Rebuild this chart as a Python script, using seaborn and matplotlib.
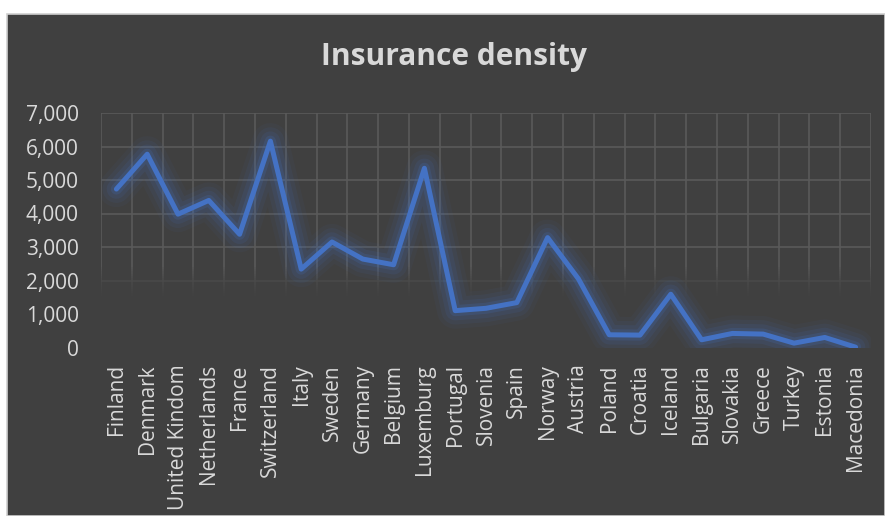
"""
Insurance density by country, Excel dark style line chart
"""

import numpy as np
import pandas as pd
import matplotlib
matplotlib.use('Agg')
import matplotlib.pyplot as plt
import matplotlib.patheffects as pe
from matplotlib.patches import Rectangle
from matplotlib.ticker import FuncFormatter, FixedLocator
import seaborn as sns

countries = ['Finland', 'Denmark', 'United Kindom', 'Netherlands', 'France',
             'Switzerland', 'Italy', 'Sweden', 'Germany', 'Belgium', 'Luxemburg',
             'Portugal', 'Slovenia', 'Spain', 'Norway', 'Austria', 'Poland',
             'Croatia', 'Iceland', 'Bulgaria', 'Slovakia', 'Greece', 'Turkey',
             'Estonia', 'Macedonia']
density = [4730, 5770, 3980, 4390, 3380, 6160, 2340, 3150, 2640, 2470, 5350,
           1100, 1170, 1340, 3280, 2050, 380, 370, 1590, 230, 420, 400, 130,
           300, 10]
y_ticks = [0, 1000, 2000, 3000, 4000, 5000, 6000, 7000]

bg = '#404040'
txt = '#d9d9d9'
blue = '#4472C4'

df = pd.DataFrame({'country': countries, 'density': density})

sns.set_theme(style='dark')
plt.rcParams['font.family'] = ['Open Sans', 'DejaVu Sans']

fig = plt.figure(figsize=(8.85, 5.16), dpi=100, facecolor='white')
fig.patches.append(Rectangle((7 / 885, 0), 1 - 7 / 885, 1 - 14 / 516,
                             transform=fig.transFigure, facecolor=bg,
                             edgecolor='#d0d0d0', linewidth=1.2, zorder=-10))
ax = fig.add_axes([101 / 885, 1 - 347.5 / 516, 770 / 885, 234.5 / 516])
ax.set_facecolor(bg)

glow = [pe.Stroke(linewidth=26, foreground=blue, alpha=0.05),
        pe.Stroke(linewidth=20, foreground=blue, alpha=0.08),
        pe.Stroke(linewidth=14, foreground=blue, alpha=0.11),
        pe.Stroke(linewidth=8, foreground=blue, alpha=0.18),
        pe.Normal()]
sns.lineplot(data=df, x='country', y='density', sort=False, ax=ax,
             color=blue, linewidth=3.6, zorder=3, path_effects=glow)

n = len(countries)
ax.set_yticks(y_ticks)
ax.yaxis.set_major_formatter(FuncFormatter(lambda v, p: f'{int(v):,}'))
ax.xaxis.set_minor_locator(FixedLocator(np.arange(-0.5, n, 1.0)))

ax.grid(False)
ax.grid(True, axis='y', which='major', color='#5a5a5a', linewidth=1.2)
ax.grid(True, axis='x', which='minor', color='#5a5a5a', linewidth=1.2)
ax.set_axisbelow(True)

# gridlines fade out towards the bottom: stacked translucent bands in bg colour
for top in np.linspace(500, 2400, 30):
    ax.axhspan(-50, top, color=bg, alpha=0.1, linewidth=0, zorder=1.5)
ax.set_xlim(-0.5, n - 0.5)
ax.set_ylim(0, 7000)

ax.tick_params(axis='both', which='both', length=0, colors=txt, labelsize=15)
ax.tick_params(axis='y', pad=16)
ax.tick_params(axis='x', pad=12)
plt.setp(ax.get_xticklabels(), rotation=90)
ax.set_xlabel('')
ax.set_ylabel('')
for s in ax.spines.values():
    s.set_visible(False)

fig.text(454 / 885, 1 - 57 / 516, 'Insurance density', ha='center', va='center',
         fontsize=21.5, fontweight='bold', color=txt)

fig.savefig('out.png', dpi=100, facecolor='white')
